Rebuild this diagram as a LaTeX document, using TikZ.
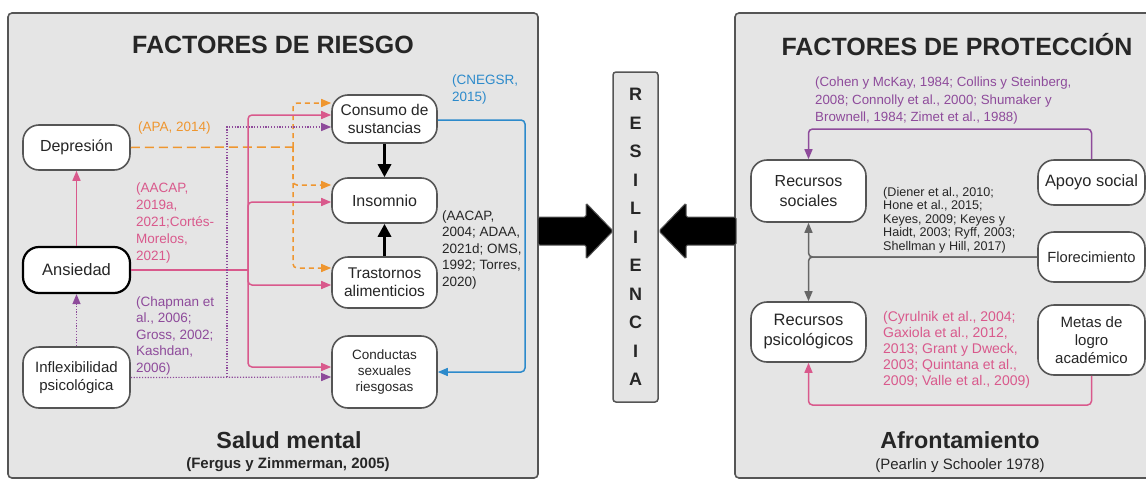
\documentclass[tikz,border=0pt]{standalone}
\usepackage{fontspec}
\setmainfont{Liberation Sans}
\usetikzlibrary{arrows.meta,calc}

\definecolor{cpink}{HTML}{D9598C}
\definecolor{corange}{HTML}{EF962F}
\definecolor{cpurple}{HTML}{8E4B9B}
\definecolor{cblue}{HTML}{2C8ACB}
\definecolor{panelfill}{HTML}{E5E5E5}
\definecolor{edgegray}{HTML}{555555}
\definecolor{txt}{HTML}{262626}
\definecolor{linkgray}{HTML}{666666}

\newcommand\fsz[2]{\fontsize{#1}{#2}\selectfont}

\tikzset{
  panel/.style={fill=panelfill, draw=edgegray, line width=1.6, rounded corners=4},
  pill/.style={draw=edgegray, line width=1.6, fill=white, rounded corners=16,
    align=center, inner sep=0, text=txt, minimum width=105},
  cite/.style={align=left, inner sep=0, anchor=west},
  tip/.style={-{Triangle[length=10pt,width=8pt]}},
  link/.style={line width=1.5, rounded corners=4},
  pinklink/.style={link, draw=cpink},
  orangelong/.style={link, draw=corange, dash pattern=on 9pt off 5pt},
  orangeshort/.style={link, draw=corange, dash pattern=on 5pt off 4pt},
  purpdot/.style={line width=1.2, draw=cpurple, dash pattern=on 1.2pt off 1.6pt},
  bluelink/.style={link, draw=cblue},
  heavy/.style={line width=3.2, draw=black, -{Triangle[length=13pt,width=13pt]}},
  bigarrow/.style={fill=black, draw=edgegray, line width=1, rounded corners=1.5},
  title/.style={font=\bfseries\fsz{25}{29}, text=txt, inner sep=0},
  subtitle/.style={font=\bfseries\fsz{23.3}{27}, text=txt, inner sep=0},
}

\begin{document}
\begin{tikzpicture}[x=1pt,y=-1pt]
\useasboundingbox (0,0) rectangle (1146,482);
\clip (0,0) rectangle (1146,482);

% ---------- panels ----------
\draw[panel] (8,13) rectangle (538,478);
\draw[panel] (735,13) rectangle (1170,478);

\node[title] (tleft) at (273,44.5) {FACTORES DE RIESGO};
\node[title] (tright) at (957,44.5) {FACTORES DE PROTECCIÓN};

\node[subtitle] (sm) at (289,440) {Salud mental};
\node[font=\bfseries\fsz{15}{17}, text=txt, inner sep=0] (smref) at (288,465) {(Fergus y Zimmerman, 2005)};
\node[subtitle] (af) at (960,440) {Afrontamiento};
\node[font=\fsz{15}{18}, text=txt, inner sep=0] (afref) at (960,466) {(Pearlin y Schooler 1978)};

% ---------- risk factors ----------
\node[pill, minimum width=107, minimum height=45, font=\fsz{16}{19}] (dep) at (76.5,147.5) {Depresión};
\node[pill, draw=black, line width=2.2, minimum width=107, minimum height=46, font=\fsz{16.5}{19}] (ans) at (76.5,270) {Ansiedad};
\node[pill, minimum width=107, minimum height=61, font=\fsz{15}{18}] (infl) at (76.5,377.5) {Inflexibilidad\\psicológica};

\node[pill, minimum height=48, font=\fsz{15.5}{18}] (cons) at (384.5,119) {Consumo de\\sustancias};
\node[pill, minimum height=45, font=\fsz{16}{19}] (ins) at (384.5,200.5) {Insomnio};
\node[pill, minimum height=51, font=\fsz{15.5}{18}] (tras) at (384.5,282.5) {Trastornos\\alimenticios};
\node[pill, minimum height=72, font=\fsz{13.5}{16}] (cond) at (384.5,372) {Conductas\\sexuales\\riesgosas};

% references on the left
\node[cite, text=corange, font=\fsz{13.5}{16}] (capa) at (138,128) {(APA, 2014)};
\node[cite, text=cpink, font=\fsz{13.5}{17}] (caacap) at (136,223) {(AACAP,\\2019a,\\2021;Cortés-\\Morelos,\\2021)};
\node[cite, text=cpurple, font=\fsz{13.5}{16.5}] (cchap) at (136,336) {(Chapman et\\al., 2006;\\Gross, 2002;\\Kashdan,\\2006)};
\node[cite, text=cblue, font=\fsz{13.5}{17}] (ccne) at (452,90) {(CNEGSR,\\2015)};
\node[cite, text=txt, font=\fsz{13.5}{16.5}] (cadaa) at (442,250) {(AACAP,\\2004; ADAA,\\2021d; OMS,\\1992; Torres,\\2020)};

% vertical links between the left column
\draw[pinklink, tip] (ans.north) -- (dep.south);
\draw[purpdot, tip] (infl.north) -- (ans.south);

% depression: dashed orange bus
\coordinate (oj) at (293,147);
\draw[orangelong] (dep.east) -- (oj);
\draw[orangeshort, tip] (oj) |- ($(cons.west)+(0,-16)$);
\draw[orangeshort, tip] (oj) |- ($(ins.west)+(0,-15.5)$);
\draw[orangeshort, tip] (oj) |- ($(tras.west)+(0,-14.5)$);

% anxiety: pink bus
\coordinate (pj) at (248,270);
\draw[pinklink] (ans.east) -- (pj);
\draw[pinklink, tip] (pj) |- ($(cons.west)+(0,-4)$);
\draw[pinklink, tip] (pj) |- ($(ins.west)+(0,1.5)$);
\draw[pinklink, tip] (pj) |- ($(tras.west)+(0,2.5)$);
\draw[pinklink, tip] (pj) |- ($(cond.west)+(0,-5)$);

% inflexibility: dotted purple links
\coordinate (vj) at (227,377);
\draw[purpdot, tip] (infl.east) -- ($(cond.west)+(0,5)$);
\draw[purpdot, tip] (vj) |- ($(cons.west)+(0,8)$);

% substance use -> risky sexual behaviour
\coordinate (bx) at (525,0);
\draw[bluelink, tip] ($(cons.east)+(0,1)$) -- ($(cons.east -| bx)+(0,1)$) -- (cond.east -| bx) -- (cond.east);

% into insomnia
\draw[heavy] (cons.south) -- (ins.north);
\draw[heavy] (tras.north) -- (ins.south);

% ---------- resilience ----------
\node[draw=edgegray, fill=panelfill, line width=1.5, rounded corners=3, minimum width=45,
  minimum height=330, align=center, inner sep=0, text=txt, font=\bfseries\fsz{18}{28.5}] (res) at (635.5,237)
  {R\\E\\S\\I\\L\\I\\E\\N\\C\\I\\A};

\draw[bigarrow] (538,217) -- (586,217) -- (586,203) -- (613,231) -- (586,259) -- (586,245) -- (538,245) -- cycle;
\draw[bigarrow] (736,217) -- (686,217) -- (686,203) -- (659,231) -- (686,259) -- (686,245) -- (736,245) -- cycle;

% ---------- protective factors ----------
\node[pill, minimum width=115, minimum height=62, font=\fsz{16}{20}] (rsoc) at (808.5,191) {Recursos\\sociales};
\node[pill, minimum width=115, minimum height=60, font=\fsz{16.5}{20}] (rpsi) at (808.5,332) {Recursos\\psicológicos};
\node[pill, minimum width=107, minimum height=45, font=\fsz{16.4}{19}] (apoyo) at (1091.5,182.5) {Apoyo social};
\node[pill, minimum width=107, minimum height=50, font=\fsz{14.7}{18}] (flor) at (1091.5,257) {Florecimiento};
\node[pill, minimum width=107, minimum height=70, font=\fsz{15}{18.3}] (metas) at (1091.5,340) {Metas de\\logro\\académico};

\node[cite, text=cpurple, font=\fsz{13.3}{17.5}] (ccohen) at (815,101)
  {(Cohen y McKay, 1984; Collins y Steinberg,\\2008; Connolly et al., 2000; Shumaker y\\Brownell, 1984; Zimet et al., 1988)};
\node[cite, text=txt, font=\fsz{12.6}{13.5}] (cdien) at (883,220)
  {(Diener et al., 2010;\\Hone et al., 2015;\\Keyes, 2009; Keyes y\\Haidt, 2003; Ryff, 2003;\\Shellman y Hill, 2017)};
\node[cite, text=cpink, font=\fsz{14}{16}] (ccyr) at (883,350)
  {(Cyrulnik et al., 2004;\\Gaxiola et al., 2012,\\2013; Grant y Dweck,\\2003; Quintana et al.,\\2009; Valle et al., 2009)};

% social support -> social resources
\coordinate (ptop) at (0,129);
\draw[link, draw=cpurple, tip] (apoyo.north) -- (apoyo.north |- ptop) -- (rsoc.north |- ptop) -- (rsoc.north);

% flourishing -> both resources
\coordinate (gj) at (rsoc.south |- flor.west);
\draw[link, draw=linkgray, tip] (flor.west) -- (gj) -- (rsoc.south);
\draw[link, draw=linkgray, tip] (flor.west) -- (gj) -- (rpsi.north);

% academic goals -> psychological resources
\coordinate (pbot) at (0,405);
\draw[link, draw=cpink, tip] (metas.south) -- (metas.south |- pbot) -- (rpsi.south |- pbot) -- (rpsi.south);
\end{tikzpicture}
\end{document}
